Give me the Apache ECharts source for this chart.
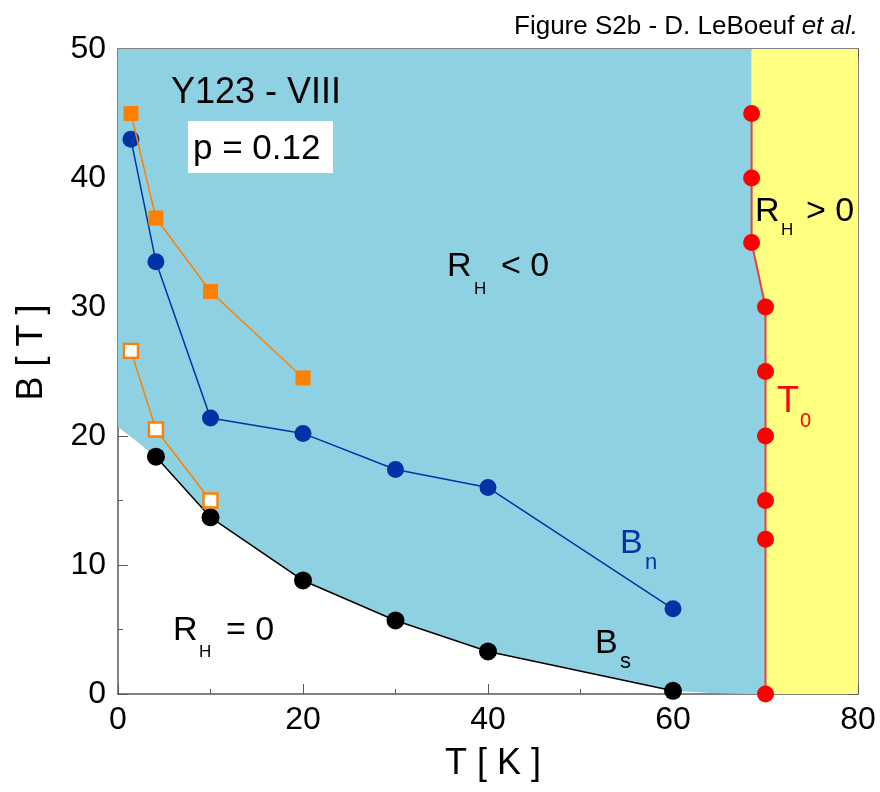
<!DOCTYPE html>
<html><head><meta charset="utf-8">
<script src="https://cdn.jsdelivr.net/npm/echarts@6/dist/echarts.min.js"></script>
<style>html,body{margin:0;padding:0;background:#fff}#c{width:880px;height:792px}</style>
</head><body><div id="c"></div>
<script>
// ---- data (T in K, B in tesla) ----
const T_MIN = 0, T_MAX = 80, B_MIN = 0, B_MAX = 50;
const T0_T = [68.5, 68.5, 68.5, 70, 70, 70, 70, 70, 70];
const T0_B = [45, 40, 35, 30, 25, 20, 15, 12, 0];
const Bs_T = [4.1, 10, 20, 30, 40, 60];
const Bs_B = [18.4, 13.7, 8.8, 5.7, 3.3, 0.25];
const Bn_T = [1.4, 4.1, 10, 20, 30, 40, 60];
const Bn_B = [43.0, 33.5, 21.4, 20.2, 17.4, 16.0, 6.6];
const sqFilled_T = [1.4, 4.1, 10, 20];
const sqFilled_B = [45.0, 36.9, 31.2, 24.5];
const sqOpen_T = [1.4, 4.1, 10];
const sqOpen_B = [26.6, 20.5, 15.0];
// edge of the RH = 0 (white) region
const edge_T = [0, 2, 4.1, 10, 20, 30, 40, 60, 64, 68];
const edge_B = [20.7, 19.6, 18.4, 13.7, 8.8, 5.7, 3.3, 0.25, 0.07, 0];
// top of the T0 boundary
const T0_top_T = 68.5;

const zip = (a, b) => a.map((v, i) => [v, b[i]]);

const FONT = 'Liberation Sans, Arial, sans-serif';
const BLUE_BG = '#8DD1E3', YELLOW_BG = '#FFFF80';
const ORANGE = '#FF8000', DKBLUE = '#0033A6', RED = '#FF0000';
const AX = '#5a5a5a';

const chart = echarts.init(document.getElementById('c'), null, {renderer: 'canvas'});

function regions(params, api) {
  const c = p => api.coord(p);
  const t0 = zip(T0_T, T0_B);
  const blue = [[T_MIN, B_MAX], [T0_top_T, B_MAX]].concat(t0)
    .concat(zip(edge_T, edge_B).reverse()).map(c);
  const yellow = [[T0_top_T, B_MAX]].concat(t0)
    .concat([[T_MAX, B_MIN], [T_MAX, B_MAX]]).map(c);
  return {type: 'group', children: [
    {type: 'polygon', shape: {points: blue}, style: {fill: BLUE_BG, stroke: null}},
    {type: 'polygon', shape: {points: yellow}, style: {fill: YELLOW_BG, stroke: null}}
  ]};
}

function axisCommon(extra) {
  return Object.assign({
    type: 'value',
    splitLine: {show: false},
    axisLine: {show: true, onZero: false, lineStyle: {color: AX, width: 1.5}},
    axisTick: {show: true, inside: true, length: 10, lineStyle: {color: AX, width: 1}},
    minorTick: {show: true, splitNumber: 2, length: 5, lineStyle: {color: AX, width: 1}},
    nameMoveOverlap: false
  }, extra);
}

const labelStyle = {fontSize: 32, color: '#000', fontFamily: FONT};

function txt(text, x, y, size, color, extra) {
  return Object.assign({
    type: 'text', x: x, y: y, z: 100,
    style: {text: text, fontSize: size, fontFamily: FONT, fill: color || '#000',
            align: 'left', verticalAlign: 'middle'}
  }, extra || {});
}

const option = {
  animation: false,
  backgroundColor: '#fff',
  grid: {left: 118, right: 22, top: 49, bottom: 98, containLabel: false, outerBoundsMode: 'none'},
  xAxis: [
    axisCommon({min: T_MIN, max: T_MAX, interval: 20, position: 'bottom',
      axisLabel: Object.assign({margin: 10}, labelStyle),
      name: 'T [ K ]', nameLocation: 'middle', nameGap: 52,
      nameTextStyle: {fontSize: 36, color: '#000', fontFamily: FONT, padding: [0, 0, 0, 10]}}),
    axisCommon({min: T_MIN, max: T_MAX, interval: 20, position: 'top',
      axisLabel: {show: false}})
  ],
  yAxis: [
    axisCommon({min: B_MIN, max: B_MAX, interval: 10, position: 'left',
      axisLabel: Object.assign({margin: 12}, labelStyle),
      name: 'B [ T ]', nameLocation: 'middle', nameGap: 68,
      nameTextStyle: {fontSize: 36, color: '#000', fontFamily: FONT, padding: [0, 0, 0, 38]}}),
    axisCommon({min: B_MIN, max: B_MAX, interval: 10, position: 'right',
      axisLabel: {show: false}})
  ],
  series: [
    {type: 'custom', renderItem: regions, data: [[0, 0]], z: 1, silent: true},
    {type: 'line', data: zip(Bs_T, Bs_B), z: 5, symbol: 'circle', symbolSize: 18,
      itemStyle: {color: '#000'}, lineStyle: {color: '#000', width: 1.5}},
    {type: 'line', data: zip(Bn_T, Bn_B), z: 5, symbol: 'circle', symbolSize: 17,
      itemStyle: {color: DKBLUE}, lineStyle: {color: DKBLUE, width: 1.5}},
    {type: 'line', data: zip(sqFilled_T, sqFilled_B), z: 6, symbol: 'rect', symbolSize: 15,
      itemStyle: {color: ORANGE}, lineStyle: {color: ORANGE, width: 1.5}},
    {type: 'line', data: zip(sqOpen_T, sqOpen_B), z: 6, symbol: 'rect', symbolSize: 14,
      itemStyle: {color: '#fff', borderColor: ORANGE, borderWidth: 2.4},
      lineStyle: {color: ORANGE, width: 1.5}},
    {type: 'line', data: zip(T0_T, T0_B), z: 5, symbol: 'circle', symbolSize: 17,
      itemStyle: {color: RED}, lineStyle: {color: '#E8403F', width: 2}}
  ],
  graphic: [
    {type: 'text', x: 858, y: 27, z: 100,
      style: {text: '{n|Figure S2b - D. LeBoeuf }{i|et al.}', align: 'right', verticalAlign: 'middle',
        rich: {n: {fontSize: 26, fontFamily: FONT, fill: '#000'},
               i: {fontSize: 26, fontFamily: FONT, fontStyle: 'italic', fill: '#000'}}}},
    txt('Y123 - VIII', 171, 93, 36),
    {type: 'rect', z: 99, shape: {x: 188, y: 121, width: 145, height: 52}, style: {fill: '#fff'}},
    txt('p = 0.12', 193, 149, 35),
    txt('R', 447, 267, 34), txt('H', 474, 289, 17), txt('< 0', 501, 267, 34),
    txt('R', 755, 212, 34), txt('H', 781, 230, 17), txt('> 0', 806, 212, 34),
    txt('T', 777, 402, 36, RED), txt('0', 800, 421, 20, RED),
    txt('B', 620, 544, 34, DKBLUE), txt('n', 645, 563, 22, DKBLUE),
    txt('B', 595, 644, 34), txt('s', 620, 662, 22),
    txt('R', 173, 631, 34), txt('H', 199, 652, 17), txt('= 0', 226, 631, 34)
  ]
};
chart.setOption(option);
</script></body></html>
